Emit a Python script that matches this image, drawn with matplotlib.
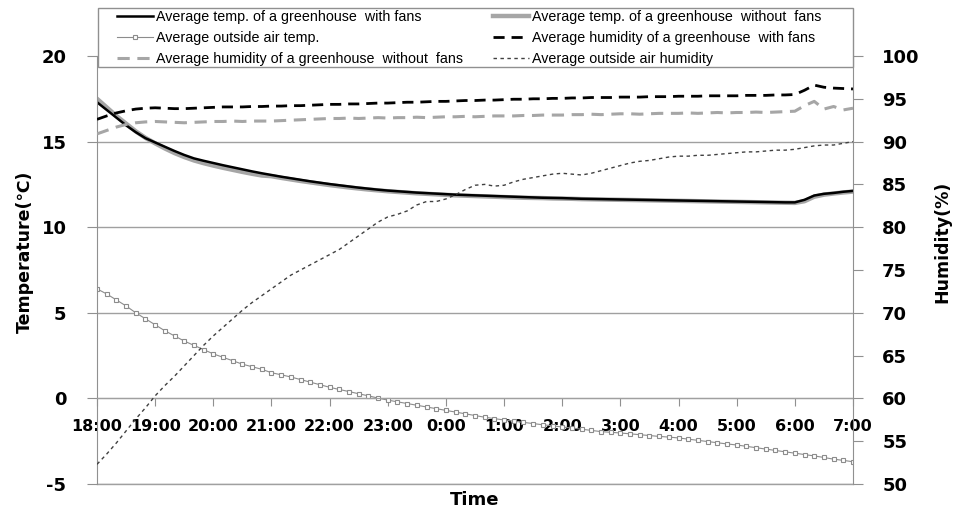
import numpy as np
import matplotlib
matplotlib.use("Agg")
import matplotlib.pyplot as plt
from matplotlib.patches import Rectangle

plt.rcParams["axes.unicode_minus"] = False

# time axis: minutes after 18:00, one reading every 10 minutes
minutes = np.arange(0, 13 * 60 + 1, 10)
hours = minutes / 60.0

tick_labels = ["18:00", "19:00", "20:00", "21:00", "22:00", "23:00", "0:00",
               "1:00", "2:00", "3:00", "4:00", "5:00", "6:00", "7:00"]

# Average temp. of a greenhouse with fans
temp_fans = [17.3, 16.85, 16.4, 15.95, 15.55, 15.2,
             14.95, 14.7, 14.45, 14.22, 14.02, 13.88,
             13.75, 13.62, 13.5, 13.38, 13.26, 13.15,
             13.05, 12.95, 12.86, 12.77, 12.68, 12.6,
             12.52, 12.45, 12.38, 12.31, 12.25, 12.19,
             12.14, 12.1, 12.06, 12.02, 11.99, 11.96,
             11.93, 11.9, 11.88, 11.86, 11.84, 11.82,
             11.8, 11.78, 11.76, 11.74, 11.72, 11.71,
             11.7, 11.68, 11.66, 11.65, 11.64, 11.63,
             11.62, 11.61, 11.6, 11.59, 11.58, 11.57,
             11.56, 11.55, 11.54, 11.53, 11.52, 11.51,
             11.5, 11.49, 11.48, 11.47, 11.46, 11.45,
             11.45, 11.6, 11.85, 11.95, 12.0, 12.07,
             12.12]

# Average temp. of a greenhouse without fans
temp_nofans = [17.5, 17.0, 16.5, 16.05, 15.6, 15.22,
               14.9, 14.6, 14.33, 14.1, 13.9, 13.74,
               13.6, 13.47, 13.35, 13.23, 13.12, 13.02,
               12.98, 12.88, 12.79, 12.7, 12.62, 12.54,
               12.46, 12.39, 12.32, 12.26, 12.2, 12.15,
               12.1, 12.06, 12.02, 11.98, 11.95, 11.92,
               11.89, 11.86, 11.84, 11.82, 11.8, 11.78,
               11.76, 11.74, 11.72, 11.71, 11.7, 11.68,
               11.67, 11.66, 11.64, 11.63, 11.62, 11.61,
               11.6, 11.59, 11.58, 11.57, 11.56, 11.55,
               11.54, 11.53, 11.52, 11.51, 11.5, 11.49,
               11.48, 11.47, 11.46, 11.45, 11.44, 11.43,
               11.42, 11.52, 11.78, 11.9, 11.97, 12.03,
               12.08]

# Average outside air temp.
temp_out = [6.4, 6.1, 5.75, 5.4, 5.0, 4.65,
            4.3, 3.95, 3.65, 3.35, 3.1, 2.85,
            2.6, 2.4, 2.2, 2.0, 1.85, 1.7,
            1.5, 1.38, 1.25, 1.1, 0.95, 0.8,
            0.65, 0.52, 0.4, 0.27, 0.15, 0.02,
            -0.1, -0.2, -0.3, -0.4, -0.5, -0.6,
            -0.7, -0.8, -0.9, -1.0, -1.1, -1.18,
            -1.26, -1.33, -1.4, -1.47, -1.54, -1.6,
            -1.67, -1.73, -1.8, -1.87, -1.94, -1.98,
            -2.02, -2.07, -2.12, -2.17, -2.22, -2.26,
            -2.31, -2.38, -2.45, -2.52, -2.59, -2.66,
            -2.72, -2.8, -2.88, -2.96, -3.04, -3.12,
            -3.2, -3.28, -3.36, -3.45, -3.55, -3.62,
            -3.7]

# Average humidity of a greenhouse with fans
hum_fans = [92.6, 93.0, 93.35, 93.6, 93.8, 93.9,
            93.95, 93.9, 93.85, 93.85, 93.9, 93.95,
            94.0, 94.05, 94.05, 94.05, 94.1, 94.1,
            94.15, 94.15, 94.2, 94.2, 94.25, 94.3,
            94.35, 94.35, 94.4, 94.4, 94.45, 94.5,
            94.5, 94.55, 94.6, 94.6, 94.65, 94.7,
            94.7, 94.75, 94.8, 94.8, 94.85, 94.85,
            94.9, 94.95, 94.95, 95.0, 95.0, 95.05,
            95.05, 95.1, 95.1, 95.15, 95.15, 95.15,
            95.2, 95.2, 95.2, 95.25, 95.25, 95.25,
            95.3, 95.3, 95.3, 95.35, 95.35, 95.35,
            95.35, 95.4, 95.4, 95.4, 95.45, 95.45,
            95.5, 96.0, 96.6, 96.35, 96.25, 96.2,
            96.15]

# Average humidity of a greenhouse without fans
hum_nofans = [90.9, 91.3, 91.7, 92.0, 92.2, 92.3,
              92.35, 92.3, 92.25, 92.2, 92.25, 92.3,
              92.35, 92.35, 92.4, 92.35, 92.4, 92.4,
              92.4, 92.45, 92.5, 92.55, 92.6, 92.65,
              92.7, 92.7, 92.75, 92.7, 92.75, 92.8,
              92.75, 92.8, 92.8, 92.85, 92.8, 92.85,
              92.9, 92.9, 92.95, 92.9, 92.95, 93.0,
              93.0, 93.0, 93.05, 93.05, 93.1, 93.1,
              93.1, 93.15, 93.15, 93.2, 93.15, 93.2,
              93.25, 93.25, 93.2, 93.25, 93.3, 93.3,
              93.3, 93.35, 93.3, 93.35, 93.4, 93.35,
              93.4, 93.4, 93.45, 93.4, 93.45, 93.5,
              93.55, 94.2, 94.7, 93.8, 94.1, 93.7,
              93.9]

# Average outside air humidity
hum_out = [52.3, 53.5, 54.8, 56.2, 57.6, 58.9,
           60.3, 61.5, 62.6, 63.8, 65.0, 66.2,
           67.3, 68.3, 69.3, 70.3, 71.2, 72.0,
           72.8, 73.6, 74.4, 75.0, 75.6, 76.2,
           76.8, 77.4, 78.2, 79.0, 79.8, 80.6,
           81.2, 81.5, 81.9, 82.6, 83.0, 83.0,
           83.3, 83.8, 84.4, 84.9, 85.0, 84.8,
           84.9, 85.3, 85.6, 85.8, 86.0, 86.2,
           86.3, 86.2, 86.1, 86.3, 86.6, 86.9,
           87.2, 87.5, 87.7, 87.8, 88.0, 88.2,
           88.3, 88.3, 88.4, 88.4, 88.5, 88.6,
           88.7, 88.8, 88.8, 88.9, 89.0, 89.0,
           89.1, 89.3, 89.5, 89.6, 89.6, 89.8,
           90.0]

GRID = "#a0a0a0"
LIGHT = "#a6a6a6"
W, H = 958, 516

fig = plt.figure(figsize=(9.58, 5.16), dpi=100)
ax = fig.add_axes([97 / W, 32 / H, 756 / W, 428 / H])
ax2 = ax.twinx()

# temperature (left axis)
l1, = ax.plot(hours, temp_nofans, color=LIGHT, lw=3.2, label="Average temp. of a greenhouse  without  fans")
l2, = ax.plot(hours, temp_fans, color="black", lw=1.8, label="Average temp. of a greenhouse  with fans")
l3, = ax.plot(hours, temp_out, color="#8c8c8c", lw=0.8, marker="s", ms=3,
              mfc="white", mec="#8c8c8c", mew=0.8, label="Average outside air temp.")

# humidity (right axis)
l4, = ax2.plot(hours, hum_fans, color="black", lw=2, dashes=(4, 2.5),
               label="Average humidity of a greenhouse  with fans")
l5, = ax2.plot(hours, hum_nofans, color=LIGHT, lw=2.2, dashes=(4, 2.5),
               label="Average humidity of a greenhouse  without  fans")
l6, = ax2.plot(hours, hum_out, color="#404040", lw=1, dashes=(2.5, 2.5),
               label="Average outside air humidity")

ax.set_xlim(0, 13)
ax.set_ylim(-5, 20)
ax2.set_ylim(50, 100)
ax.set_yticks([-5, 0, 5, 10, 15, 20])
ax2.set_yticks([50, 55, 60, 65, 70, 75, 80, 85, 90, 95, 100])
ax.set_xticks(range(14))
ax.set_xticklabels(tick_labels)

ax.grid(axis="y", color=GRID, lw=1)
ax.set_axisbelow(True)
ax.axhline(-5, color=GRID, lw=1, clip_on=False, zorder=0)

for s in ["top", "right"]:
    ax.spines[s].set_visible(False)
for s in ["top", "left", "bottom"]:
    ax2.spines[s].set_visible(False)
ax.spines["bottom"].set_position(("data", 0))
ax.spines["bottom"].set_color(GRID)
ax.spines["left"].set_color("#909090")
ax2.spines["right"].set_color("#909090")

ax.tick_params(axis="y", length=7, color="#909090", pad=15, labelsize=13)
ax2.tick_params(axis="y", length=7, color="#909090", pad=14, labelsize=13)
ax.tick_params(axis="x", length=6, color="#909090", pad=9, labelsize=11.5)
for lab in ax.get_xticklabels() + ax.get_yticklabels() + ax2.get_yticklabels():
    lab.set_fontweight("bold")

fig.text(25 / W, 1 - 252 / H, "Temperature(℃)", rotation=90, ha="center", va="center",
         fontsize=12.5, fontweight="bold")
fig.text(942 / W, 1 - 242 / H, "Humidity(%)", rotation=90, ha="center", va="center",
         fontsize=12.5, fontweight="bold")
fig.text(475 / W, 1 - 500 / H, "Time", ha="center", va="center",
         fontsize=13, fontweight="bold")

# legend: one box across the top, two columns placed inside it
fig.add_artist(Rectangle((98 / W, 1 - 67 / H), 755 / W, 59 / H, transform=fig.transFigure,
                         fc="white", ec="#909090", lw=1, zorder=4))
leg_kw = dict(loc="upper left", frameon=False, prop={"family": "Liberation Sans", "size": 10.3},
              handlelength=2.5, handletextpad=0.25, labelspacing=0.5,
              borderpad=0, borderaxespad=0)
left_h = [l2, l3, l5]
right_h = [l1, l4, l6]
fig.legend(left_h, [h.get_label() for h in left_h],
           bbox_to_anchor=(117 / W, 1 - 10 / H), **leg_kw)
fig.legend(right_h, [h.get_label() for h in right_h],
           bbox_to_anchor=(493 / W, 1 - 10 / H), **leg_kw)

fig.savefig("out.png", dpi=100)
